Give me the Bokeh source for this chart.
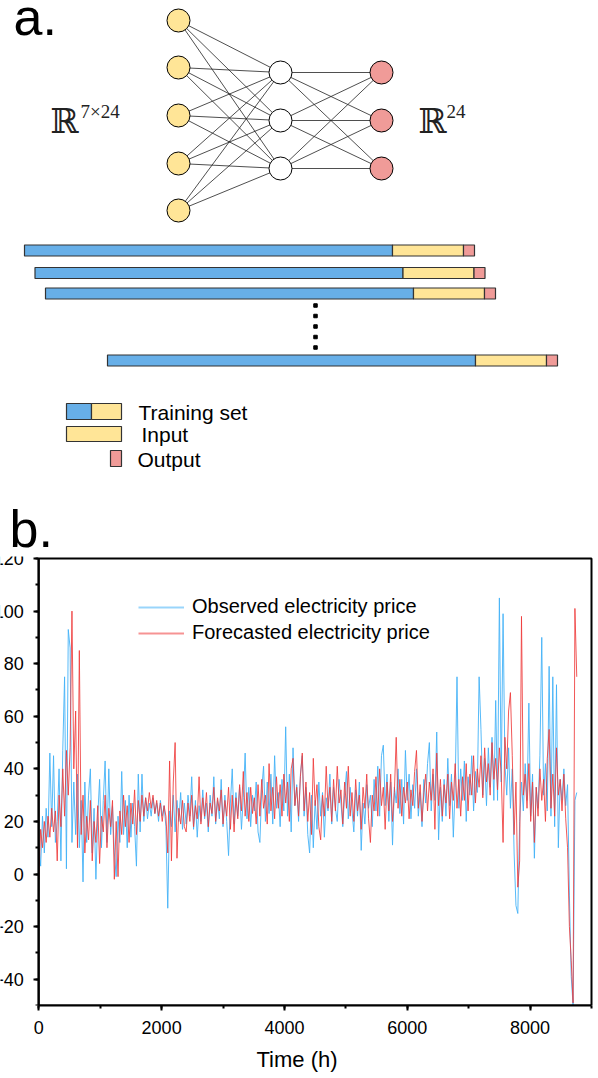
from bokeh.plotting import figure
from bokeh.layouts import column
from bokeh.models import (Legend, LegendItem, SingleIntervalTicker, Range1d, LinearAxis,
                          BoxAnnotation)
from bokeh.core.properties import value
from bokeh.embed import file_html
from bokeh.resources import INLINE

# ---------------- panel b data (sampled every 30 h) ----------------
STEP_H = 30
observed_price = [
    12, 3, 22, 8, 25, 14, 46, 18, 45, 12,
    20, 40, 5, 47, 75, 2, 93, 86, 12, 35,
    15, 38, 10, 28, -3, 35, 12, 30, 40, 8,
    25, -2, 22, 36, 10, 28, 43, 12, 40, 15,
    26, 8, -1, 22, 12, 39, 15, 28, 10, 30,
    14, 27, 18, 3, 38, 16, 38, 20, 29, 21,
    27, 22, 29, 23, 27, 20, 28, 22, 26, 18,
    -13, 24, 18, 30, 16, 28, 20, 31, 17, 27,
    19, 30, 22, 37, 17, 28, 14, 26, 20, 32,
    21, 27, 16, 30, 22, 37, 19, 28, 21, 36,
    18, 30, 20, 7, 27, 40, 19, 31, 22, 33,
    17, 29, 46, 21, 33, 18, 30, 24, 35, 16,
    12, 32, 41, 20, 35, 23, 38, 19, 45, 25,
    31, 18, 36, 24, 56, 22, 38, 16, 48, 26,
    34, 20, 38, 45, 22, 33, 15, 8, 30, 10,
    28, 17, 35, 22, 31, 14, 29, 24, 38, 19,
    33, 25, 20, 36, 27, 18, 30, 39, 21, 33,
    24, 16, 32, 22, 35, 9, 27, 19, 34, 25,
    30, 18, 36, 24, 41, 22, 45, 49, 26, 38,
    20, 35, 11, 33, 27, 40, 23, 36, 19, 47,
    28, 38, 21, 34, 25, 40, 22, 31, 18, 36,
    27, 42, 50, 24, 38, 28, 54, 13, 33, 20,
    36, 22, 44, 26, 38, 14, 33, 75, 25, 40,
    28, 43, 20, 37, 30, 45, 24, 39, 31, 75,
    55, 30, 44, 26, 48, 33, 52, 28, 66, 28,
    105, 35, 99, 42, 30, 48, 25, 40, 8, -12,
    -15, 20, 35, 24, 42, 28, 65, 22, 38, 6,
    33, 25, 45, 90, 30, 42, 24, 79, 22, 75,
    18, 72, 10, 36, 28, 40, 26, 34, -8, -39,
    -50, 28, 31,
]
forecast_price = [
    -2, 17, 10, 20, 12, 22, 14, 25, 16, 24,
    5, 30, 18, 40, 22, 47, 30, 48, 100, 40,
    62, 10, 85, 15, 30, 8, 22, 13, 28, 5,
    20, 12, 26, 4, 22, 16, 30, 10, 25, 18,
    28, -2, 20, -1, 24, 15, 30, 18, 26, 12,
    27, 19, 32, 15, 28, 20, 30, 22, 29, 24,
    31, 25, 30, 23, 28, 22, 27, 20, 26, 22,
    8, 43, 5, 35, 50, 6, 25, 19, 28, 18,
    16, 27, 20, 30, 18, 26, 21, 37, 19, 29,
    22, 31, 18, 27, 23, 33, 20, 29, 24, 32,
    19, 28, 22, 33, 17, 30, 16, 29, 21, 34,
    24, 39, 22, 31, 20, 33, 23, 29, 19, 34,
    22, 36, 25, 30, 19, 42, 24, 33, 21, 37,
    25, 34, 22, 38, 27, 35, 20, 40, 44, 26,
    33, 22, 37, 46, 24, 35, 20, 31, 15, 44,
    26, 34, 18, 13, 30, 22, 41, 25, 33, 20,
    36, 24, 41, 27, 32, 19, 35, 25, 41, 22,
    31, 20, 36, 24, 30, 17, 33, 25, 38, 21,
    12, 30, 24, 37, 22, 40, 26, 33, 17, 35,
    24, 38, 20, 31, 52, 25, 36, 22, 33, 27,
    35, 21, 32, 26, 39, 47, 25, 34, 20, 31,
    38, 24, 35, 28, 40, 17, 46, 26, 36, 22,
    34, 27, 38, 21, 35, 28, 42, 25, 36, 22,
    37, 28, 42, 24, 38, 30, 45, 27, 40, 33,
    45, 29, 48, 35, 42, 30, 50, 36, 44, 32,
    48, 38, 12, 52, 40, 62, 69, 45, 15, 35,
    -5, 5, 98, 30, 38, 25, 42, 20, 35, 12,
    33, 22, 40, 28, 36, 20, 44, 55, 25, 38,
    22, 48, 30, 36, 24, 38, 21, 10, -20, -33,
    -49, 101, 75,
]
hours = [i * STEP_H for i in range(len(observed_price))]
series_labels = ["Observed electricity price", "Forecasted electricity price"]
x_label = "Time (h)"
X_MAX = 9000
Y_MIN, Y_MAX = -50, 120

# ---------------- panel a (schematic) data ----------------
layer_sizes = [5, 3, 3]
input_space = ("\u211d", "7\u00d724")
output_space = ("\u211d", "24")
legend_a_labels = ["Training set", "Input", "Output"]

FONT = "Liberation Sans"
YELLOW = "#FFE597"
BLUE_BAR = "#67AFE8"
PINK = "#F09B98"

# ---------------- layout geometry (page pixels) ----------------
PAGE_W = 598
RIGHT_B = 5
FRAME_W = PAGE_W - RIGHT_B           # both figures: frame from page x 0 to 593
AXIS_X = 38.3                        # page x of time 0
BOX_RIGHT = 591.0                    # page x of time 9000
PB_H = 530
PB_TOP_B, PB_BOTTOM_B = 8, 73        # frame: page y 556 .. 1005 (pb starts at 548)
BOX_TOP_PAD = 2.0                    # data box top sits 2 px under frame top

# ---------------- panel a ----------------
pa = figure(width=PAGE_W, height=548, x_range=Range1d(0, FRAME_W), y_range=Range1d(548, 0),
            output_backend="svg", toolbar_location=None,
            min_border_left=0, min_border_right=RIGHT_B, min_border_top=0, min_border_bottom=0,
            x_axis_location=None, y_axis_location=None)
pa.grid.visible = False
pa.outline_line_color = None

layer_x = [178, 280, 381]
layer_y = [[20, 67, 115, 163, 210], [72, 120, 168], [72, 120, 168]]
for li in range(len(layer_sizes) - 1):
    x0s, y0s, x1s, y1s = [], [], [], []
    for ya in layer_y[li]:
        for yb in layer_y[li + 1]:
            x0s.append(layer_x[li]); y0s.append(ya)
            x1s.append(layer_x[li + 1]); y1s.append(yb)
    pa.segment(x0s, y0s, x1s, y1s, line_color="#222222", line_width=0.8)
fills = [YELLOW, "white", PINK]
for li in range(len(layer_sizes)):
    pa.circle([layer_x[li]] * layer_sizes[li], layer_y[li], radius=11.5,
              fill_color=fills[li], line_color="black", line_width=1)

pa.text([13], [16], text=["a."], text_font=value(FONT), text_font_size="52px",
        text_baseline="middle", text_color="black")
pa.text([9], [528], text=["b."], text_font=value(FONT), text_font_size="52px",
        text_baseline="middle", text_color="black")

pa.text([50, 418], [120, 120], text=[input_space[0], output_space[0]],
        text_font=value("DejaVu Serif"), text_font_size="34px", text_baseline="middle",
        text_color="#222222")
pa.text([80, 446], [110.5, 110.5], text=[input_space[1], output_space[1]],
        text_font=value("Liberation Serif"), text_font_size="19px", text_baseline="middle",
        text_color="#222222")

win_x0 = [24, 34.5, 45, 107]
win_y = [250, 272.5, 293, 360]
train_len, input_len, output_len = 368, 71, 11
h = 5.5
L, R, T, B, C = [], [], [], [], []
for x0, yc in zip(win_x0, win_y):
    segs = [(x0, x0 + train_len, BLUE_BAR),
            (x0 + train_len, x0 + train_len + input_len, YELLOW),
            (x0 + train_len + input_len, x0 + train_len + input_len + output_len, PINK)]
    for a, b, c in segs:
        L.append(a); R.append(b); T.append(yc - h); B.append(yc + h); C.append(c)
pa.quad(left=L, right=R, top=T, bottom=B, fill_color=C, line_color="#333333", line_width=1.2)
pa.scatter([315] * 5, [305, 315.5, 326, 336.5, 347], marker="square", size=3.5,
           fill_color="black", line_color="black")

pa.quad(left=[66, 91, 66, 110], right=[91, 121, 121, 121], top=[403, 403, 426, 450],
        bottom=[419, 419, 441, 466], fill_color=[BLUE_BAR, YELLOW, YELLOW, PINK],
        line_color="#333333", line_width=1.2)
pa.text([138, 141, 137], [412, 434, 459], text=legend_a_labels, text_font=value(FONT),
        text_font_size="21px", text_baseline="middle", text_color="black")

# ---------------- panel b ----------------
sx = (BOX_RIGHT - AXIS_X) / X_MAX                   # px per hour
x_start = -AXIS_X / sx
x_end = X_MAX + (FRAME_W - BOX_RIGHT) / sx
frame_h = PB_H - PB_TOP_B - PB_BOTTOM_B
sy = (frame_h - BOX_TOP_PAD) / (Y_MAX - Y_MIN)     # px per unit
y_end = Y_MAX + BOX_TOP_PAD / sy

pb = figure(width=PAGE_W, height=PB_H, x_range=Range1d(x_start, x_end),
            y_range=Range1d(Y_MIN, y_end),
            output_backend="svg", toolbar_location=None,
            x_axis_location=None, y_axis_location=None,
            min_border_left=0, min_border_right=RIGHT_B,
            min_border_top=PB_TOP_B, min_border_bottom=PB_BOTTOM_B)
pb.grid.visible = False
pb.outline_line_color = None

OBS_C = "#45B2F7"
FC_C = "#EF3B3B"
pb.line(hours, observed_price, line_color=OBS_C, line_width=1, line_alpha=0.9)
pb.line(hours, forecast_price, line_color=FC_C, line_width=1, line_alpha=0.85)
nan = float("nan")
leg_obs = pb.line([nan], [nan], line_color=OBS_C, line_width=2, line_alpha=0.55)
leg_fc = pb.line([nan], [nan], line_color=FC_C, line_width=2, line_alpha=0.55)

# plot box (top and right sides) at the data limits
pb.add_layout(BoxAnnotation(left=0, right=X_MAX, bottom=Y_MIN, top=Y_MAX,
                            fill_alpha=0, line_color="black", line_width=2, line_alpha=1))

x_ax = LinearAxis(ticker=SingleIntervalTicker(interval=2000, num_minor_ticks=2),
                  bounds=(0, X_MAX))
y_ax = LinearAxis(ticker=SingleIntervalTicker(interval=20, num_minor_ticks=2),
                  bounds=(Y_MIN, Y_MAX), fixed_location=0)
pb.add_layout(x_ax, "below")
pb.add_layout(y_ax, "left")

for ax in (x_ax, y_ax):
    ax.axis_line_color = "black"
    ax.axis_line_width = 2
    ax.major_tick_line_color = "black"
    ax.major_tick_line_width = 2
    ax.minor_tick_line_color = "black"
    ax.minor_tick_line_width = 2
    ax.major_tick_in = 0
    ax.major_tick_out = 5
    ax.minor_tick_in = 0
    ax.minor_tick_out = 3
    ax.major_label_text_font = FONT
    ax.major_label_text_font_size = "18px"
    ax.major_label_text_color = "black"
    ax.major_label_standoff = 10

x_ax.axis_label = x_label
x_ax.axis_label_text_font = FONT
x_ax.axis_label_text_font_size = "22px"
x_ax.axis_label_text_font_style = "normal"
x_ax.axis_label_text_color = "black"
x_ax.axis_label_standoff = 10

leg = Legend(items=[LegendItem(label=series_labels[0], renderers=[leg_obs]),
                    LegendItem(label=series_labels[1], renderers=[leg_fc])],
             location=(138, 361), padding=0, spacing=3, margin=0,
             glyph_width=46, glyph_height=20, label_standoff=8, label_height=20,
             label_text_font=FONT, label_text_font_size="20px", label_text_color="black",
             border_line_alpha=0, background_fill_alpha=0)
pb.add_layout(leg)

layout = column(pa, pb)
open("out.html", "w").write(file_html(layout, INLINE))
